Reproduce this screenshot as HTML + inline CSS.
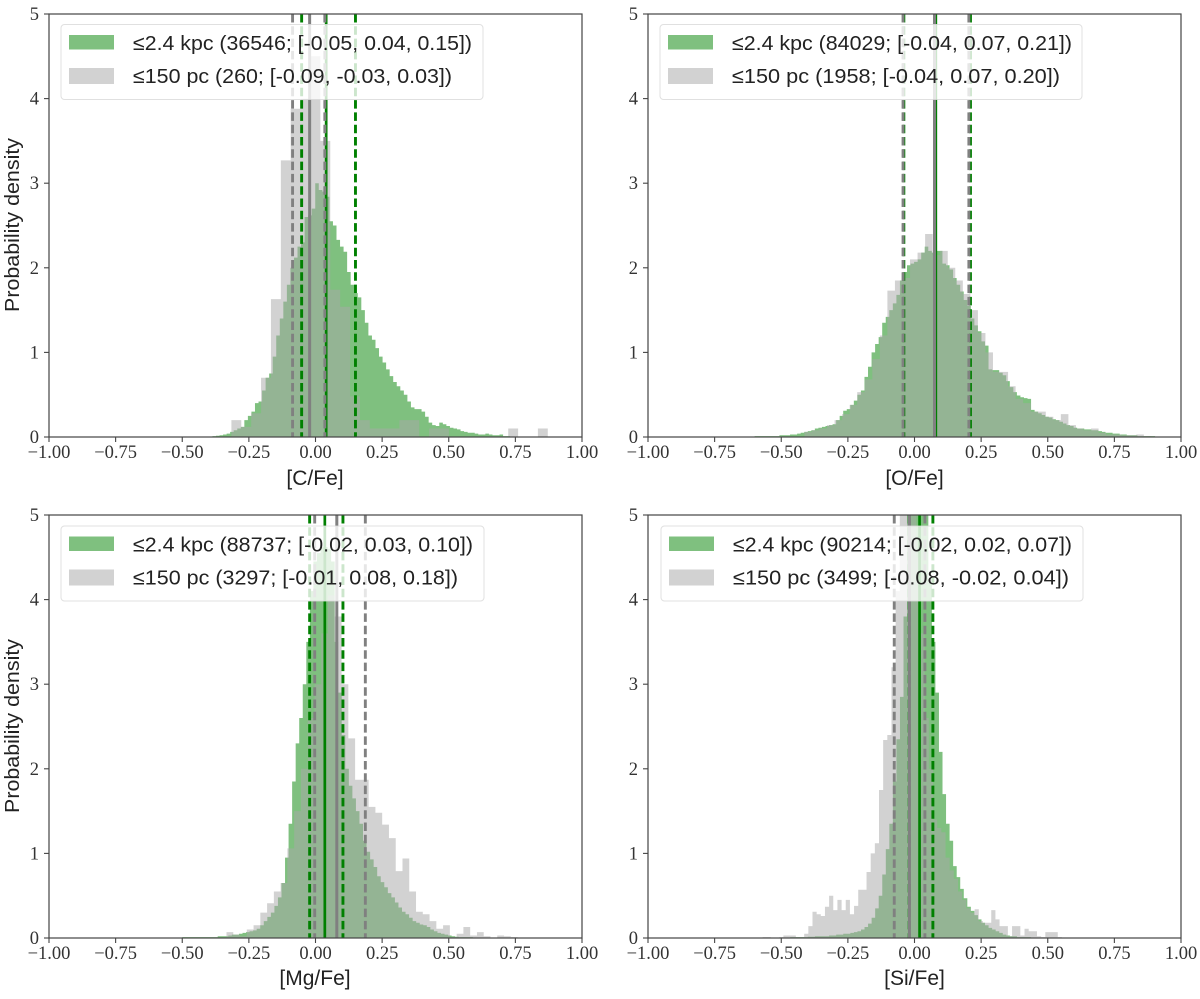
<!DOCTYPE html>
<html lang="en">
<head>
<meta charset="utf-8">
<title>Abundance distributions</title>
<style>
html,body{margin:0;padding:0;background:#fff;width:1200px;height:999px;overflow:hidden}
svg{display:block}
.tick{font-family:"Liberation Serif",serif;font-size:18.5px;fill:#333}
.axt{font-family:"Liberation Sans",sans-serif;font-size:20px;fill:#222}
.axx{font-family:"Liberation Sans",sans-serif;font-size:21px;fill:#222}
.leg{font-family:"Liberation Sans",sans-serif;font-size:20.5px;fill:#222}
</style>
</head>
<body>
<svg id="fig" xmlns="http://www.w3.org/2000/svg" width="1200" height="999" viewBox="0 0 1200 999">
  <defs>
    <clipPath id="clip-0"><rect x="49" y="14" width="533" height="423"/></clipPath>
    <clipPath id="clip-1"><rect x="648" y="14" width="533" height="423"/></clipPath>
    <clipPath id="clip-2"><rect x="49" y="515" width="533" height="423"/></clipPath>
    <clipPath id="clip-3"><rect x="648" y="515" width="533" height="423"/></clipPath>
  </defs>

  <g id="panel-0">
    <g id="marks-0" clip-path="url(#clip-0)"></g>
    <g id="frame-0"></g>
    <g>
      <rect x="61" y="24.5" width="422" height="75" rx="3.5" fill="#fff" fill-opacity="0.8" stroke="#d8d8d8" stroke-opacity="0.8"/>
      <rect x="69" y="35" width="45" height="14.5" fill="#7fc07f"/>
      <rect x="69" y="68" width="45" height="16" fill="#d2d2d2"/>
      <text class="leg" x="133" y="50" textLength="339" lengthAdjust="spacingAndGlyphs">≤2.4 kpc (36546; [-0.05, 0.04, 0.15])</text>
      <text class="leg" x="133" y="83" textLength="319" lengthAdjust="spacingAndGlyphs">≤150 pc (260; [-0.09, -0.03, 0.03])</text>
    </g>
    <text class="axx" x="315" y="485" text-anchor="middle">[C/Fe]</text>
    <text class="axt" transform="translate(19,225) rotate(-90)" text-anchor="middle" textLength="174" lengthAdjust="spacingAndGlyphs">Probability density</text>
  </g>

  <g id="panel-1">
    <g id="marks-1" clip-path="url(#clip-1)"></g>
    <g id="frame-1"></g>
    <g>
      <rect x="660" y="24.5" width="422" height="75" rx="3.5" fill="#fff" fill-opacity="0.8" stroke="#d8d8d8" stroke-opacity="0.8"/>
      <rect x="668" y="35" width="45" height="14.5" fill="#7fc07f"/>
      <rect x="668" y="68" width="45" height="16" fill="#d2d2d2"/>
      <text class="leg" x="732" y="50" textLength="340" lengthAdjust="spacingAndGlyphs">≤2.4 kpc (84029; [-0.04, 0.07, 0.21])</text>
      <text class="leg" x="732" y="83" textLength="328" lengthAdjust="spacingAndGlyphs">≤150 pc (1958; [-0.04, 0.07, 0.20])</text>
    </g>
    <text class="axx" x="914.5" y="485" text-anchor="middle">[O/Fe]</text>
  </g>

  <g id="panel-2">
    <g id="marks-2" clip-path="url(#clip-2)"></g>
    <g id="frame-2"></g>
    <g>
      <rect x="61" y="526" width="423" height="75" rx="3.5" fill="#fff" fill-opacity="0.8" stroke="#d8d8d8" stroke-opacity="0.8"/>
      <rect x="69" y="536.5" width="45" height="14.5" fill="#7fc07f"/>
      <rect x="69" y="569.5" width="45" height="16" fill="#d2d2d2"/>
      <text class="leg" x="133" y="551.5" textLength="340" lengthAdjust="spacingAndGlyphs">≤2.4 kpc (88737; [-0.02, 0.03, 0.10])</text>
      <text class="leg" x="133" y="584.5" textLength="325" lengthAdjust="spacingAndGlyphs">≤150 pc (3297; [-0.01, 0.08, 0.18])</text>
    </g>
    <text class="axx" x="315" y="985" text-anchor="middle">[Mg/Fe]</text>
    <text class="axt" transform="translate(19,726) rotate(-90)" text-anchor="middle" textLength="174" lengthAdjust="spacingAndGlyphs">Probability density</text>
  </g>

  <g id="panel-3">
    <g id="marks-3" clip-path="url(#clip-3)"></g>
    <g id="frame-3"></g>
    <g>
      <rect x="661" y="526" width="422" height="75" rx="3.5" fill="#fff" fill-opacity="0.8" stroke="#d8d8d8" stroke-opacity="0.8"/>
      <rect x="669" y="536.5" width="45" height="14.5" fill="#7fc07f"/>
      <rect x="669" y="569.5" width="45" height="16" fill="#d2d2d2"/>
      <text class="leg" x="733" y="551.5" textLength="339" lengthAdjust="spacingAndGlyphs">≤2.4 kpc (90214; [-0.02, 0.02, 0.07])</text>
      <text class="leg" x="733" y="584.5" textLength="336" lengthAdjust="spacingAndGlyphs">≤150 pc (3499; [-0.08, -0.02, 0.04])</text>
    </g>
    <text class="axx" x="914.5" y="985" text-anchor="middle">[Si/Fe]</text>
  </g>
</svg>

<script>
const xTickValues = [-1, -0.75, -0.5, -0.25, 0, 0.25, 0.5, 0.75, 1];
const xTickLabels = ["−1.00", "−0.75", "−0.50", "−0.25", "0.00", "0.25", "0.50", "0.75", "1.00"];
const yTickValues = [0, 1, 2, 3, 4, 5];
const yTickLabels = ["0", "1", "2", "3", "4", "5"];

const greenC = [.005,.01,.015,.02,.03,.04,.06,.08,.1,.12,.2,.25,.3,.4,.42,.55,.7,.75,.95,1.2,1.4,1.6,1.8,2.0,2.12,2.25,2.3,2.6,2.62,2.7,3.0,2.92,2.9,2.84,2.55,2.5,2.33,2.25,2.19,1.95,1.8,1.7,1.65,1.5,1.35,1.2,1.15,1.05,.95,.88,.8,.72,.65,.6,.55,.5,.42,.35,.33,.33,.3,.24,.17,.14,.13,.17,.15,.13,.11,.1,.09,.07,.06,.05,.05,.04,.03,.03,.04,.03,.02,.02,.03,.01,.01];
const grayC = [.2,.12,.28,.7,1.63,3.27,3.88,4.0,4.5,3.5,1.74,1.54,.48,.2,.1,.1,.1,.2,.2,0,.1,.1,0,0,0,0,0,0,.1,0,0,.1];

const greenO = [.01,.01,.01,.01,.01,.01,.01,.02,.02,.02,.03,.03,.04,.05,.06,.07,.08,.1,.11,.12,.13,.14,.15,.2,.25,.31,.33,.38,.43,.5,.55,.71,.83,1.0,1.1,1.18,1.35,1.42,1.5,1.58,1.68,1.85,1.95,2.03,2.05,2.07,2.1,2.18,2.25,2.2,2.18,2.2,2.2,2.05,2.03,1.98,1.88,1.8,1.72,1.62,1.55,1.4,1.32,1.25,1.13,1.08,.8,.79,.79,.76,.73,.66,.59,.53,.49,.47,.46,.45,.32,.3,.28,.26,.24,.23,.21,.2,.18,.16,.14,.13,.11,.1,.1,.09,.09,.08,.08,.07,.06,.05,.05,.04,.04,.03,.03,.02,.02,.02,.01,.01,.01,.01,.01];
const grayO = [.06,.08,.1,.14,.2,.27,.38,.53,.68,.92,1.2,1.73,1.85,1.88,2.1,2.18,2.4,2.15,2.2,2.0,1.85,1.69,1.5,1.23,1.0,.77,.77,.6,.45,.4,.3,.3,.24,.2,.27,.14,.1,.08,.1,.05,.03,.03,.02,.02,.03,.01];

const greenMg = [.01,.01,.01,.01,.01,.01,.01,.01,.01,.01,.02,.02,.02,.03,.04,.04,.05,.06,.07,.08,.09,.11,.15,.2,.25,.3,.38,.48,.65,.95,1.35,1.85,2.3,2.6,3.0,3.5,4.1,4.45,4.55,4.62,4.62,4.6,4.45,3.5,2.9,2.4,2.0,1.8,1.65,1.5,1.35,1.15,1.02,.93,.84,.73,.66,.6,.53,.48,.42,.36,.31,.28,.24,.2,.18,.16,.15,.13,.1,.08,.06,.05,.04,.03,.02,.015,.01,.01,.01,.01];
const grayMg = [.07,.04,.02,.1,.15,.3,.41,.55,.65,1.06,1.5,2.0,2.6,3.0,3.6,4.05,3.8,3.0,2.36,1.87,1.87,1.55,1.48,1.34,1.18,.79,.94,.55,.31,.28,.2,.11,.15,.01,.05,.13,.03,.07,.02,0,.03,.02,.01];

const greenSi = [.005,.005,.005,.005,.01,.01,.01,.01,.01,.015,.015,.02,.02,.02,.02,.03,.03,.04,.04,.05,.05,.06,.07,.08,.1,.13,.17,.24,.35,.5,.75,1.05,1.35,1.85,2.35,2.85,3.8,5.3,6.4,7.0,7.2,6.6,5.2,4.2,3.5,2.9,2.2,1.7,1.35,1.15,.85,.72,.58,.47,.37,.32,.27,.22,.18,.15,.12,.1,.08,.06,.04,.03,.02,.02,.01,.01,.01,.01,.005,.005];
const graySi = [.01,.01,0,0,.01,.03,.03,.03,.01,.01,.05,.14,.31,.28,.26,.37,.5,.33,.45,.33,.45,.28,.38,.57,.57,.78,1.0,1.12,1.75,2.34,2.4,3.2,4.1,5.2,5.6,5.5,5.0,4.5,3.6,2.6,2.0,1.4,1.3,1.25,.95,.8,.7,.55,.45,.35,.3,.34,.2,.18,.18,.33,.22,.14,.14,.02,.14,.14,.03,.11,.08,.08,.02,.01,.07,.07,.07,.01];

const greenBinStart = [-0.40, -0.60, -0.50, -0.52];
const greenBinWidth = [0.0133, 0.0133, 0.0133, 0.0133];
const grayBinStart = [-0.3156, -0.413, -0.334, -0.57];
const grayBinWidth = [0.0371, 0.0283, 0.0254, 0.0156];

const greenQuantilesC = [-0.052, 0.04, 0.15];
const grayQuantilesC = [-0.086, -0.022, 0.035];
const greenQuantilesO = [-0.04, 0.08, 0.21];
const grayQuantilesO = [-0.043, 0.075, 0.204];
const greenQuantilesMg = [-0.022, 0.035, 0.103];
const grayQuantilesMg = [-0.003, 0.08, 0.187];
const greenQuantilesSi = [-0.02, 0.019, 0.069];
const grayQuantilesSi = [-0.076, -0.019, 0.039];

const panelNames = ["c", "o", "mg", "si"];
const greenSeries = [greenC, greenO, greenMg, greenSi];
const graySeries = [grayC, grayO, grayMg, graySi];
const greenLines = [greenQuantilesC, greenQuantilesO, greenQuantilesMg, greenQuantilesSi];
const grayLines = [grayQuantilesC, grayQuantilesO, grayQuantilesMg, grayQuantilesSi];

const SVG_NS = "http://www.w3.org/2000/svg";
const boxes = [
  {l: 49, r: 582, t: 14, b: 437},
  {l: 648, r: 1181, t: 14, b: 437},
  {l: 49, r: 582, t: 515, b: 938},
  {l: 648, r: 1181, t: 515, b: 938}
];

function xScale(box, v) { return box.l + (v + 1) / 2 * (box.r - box.l); }
function yScale(box, v) { return box.b - v / 5 * (box.b - box.t); }

function histPath(box, values, start, width) {
  let d = "M" + xScale(box, start).toFixed(2) + " " + box.b;
  values.forEach(function (v, i) {
    const x0 = xScale(box, start + i * width).toFixed(2);
    const x1 = xScale(box, start + (i + 1) * width).toFixed(2);
    const y = yScale(box, v).toFixed(2);
    d += "L" + x0 + " " + y + "L" + x1 + " " + y;
  });
  d += "L" + xScale(box, start + values.length * width).toFixed(2) + " " + box.b + "Z";
  return d;
}

function addLine(parent, box, value, color, width, dashed) {
  const line = document.createElementNS(SVG_NS, "line");
  const x = xScale(box, value);
  line.setAttribute("x1", x);
  line.setAttribute("x2", x);
  line.setAttribute("y1", box.t);
  line.setAttribute("y2", box.b);
  line.setAttribute("stroke", color);
  line.setAttribute("stroke-width", width);
  if (dashed) line.setAttribute("stroke-dasharray", "8.5 3.8");
  
  
  parent.appendChild(line);
}

boxes.forEach(function (box, p) {
  const marks = document.getElementById("marks-" + p);
  const frame = document.getElementById("frame-" + p);

  const green = document.createElementNS(SVG_NS, "path");
  green.setAttribute("d", histPath(box, greenSeries[p], greenBinStart[p], greenBinWidth[p]));
  green.setAttribute("fill", "#7fc07f");
  
  
  marks.appendChild(green);

  const gray = document.createElementNS(SVG_NS, "path");
  gray.setAttribute("d", histPath(box, graySeries[p], grayBinStart[p], grayBinWidth[p]));
  gray.setAttribute("fill", "#a8a8a8");
  gray.setAttribute("fill-opacity", "0.516");
  
  
  marks.appendChild(gray);

  greenLines[p].forEach(function (v, i) {
    addLine(marks, box, v, "#008000", i === 1 ? 2.7 : 2.9, i !== 1);
  });
  grayLines[p].forEach(function (v, i) {
    addLine(marks, box, v, "#808080", i === 1 ? 3 : 2.9, i !== 1);
  });

  const spine = document.createElementNS(SVG_NS, "rect");
  spine.setAttribute("x", box.l);
  spine.setAttribute("y", box.t);
  spine.setAttribute("width", box.r - box.l);
  spine.setAttribute("height", box.b - box.t);
  spine.setAttribute("fill", "none");
  spine.setAttribute("stroke", "#444");
  spine.setAttribute("stroke-width", "1.2");
  
  
  frame.appendChild(spine);

  xTickValues.forEach(function (v, i) {
    const x = xScale(box, v);
    const tick = document.createElementNS(SVG_NS, "line");
    tick.setAttribute("x1", x);
    tick.setAttribute("x2", x);
    tick.setAttribute("y1", box.b);
    tick.setAttribute("y2", box.b + 5);
    tick.setAttribute("stroke", "#444");
    tick.setAttribute("stroke-width", "1.1");
    
    
    frame.appendChild(tick);
    const label = document.createElementNS(SVG_NS, "text");
    label.setAttribute("x", x);
    label.setAttribute("y", box.b + 21);
    label.setAttribute("text-anchor", "middle");
    label.setAttribute("class", "tick");
    
    
    label.textContent = xTickLabels[i];
    frame.appendChild(label);
  });

  yTickValues.forEach(function (v, i) {
    const y = yScale(box, v);
    const tick = document.createElementNS(SVG_NS, "line");
    tick.setAttribute("x1", box.l - 5);
    tick.setAttribute("x2", box.l);
    tick.setAttribute("y1", y);
    tick.setAttribute("y2", y);
    tick.setAttribute("stroke", "#444");
    tick.setAttribute("stroke-width", "1.1");
    
    
    frame.appendChild(tick);
    const label = document.createElementNS(SVG_NS, "text");
    label.setAttribute("x", box.l - 10);
    label.setAttribute("y", y + 6);
    label.setAttribute("text-anchor", "end");
    label.setAttribute("class", "tick");
    
    
    label.textContent = yTickLabels[i];
    frame.appendChild(label);
  });
});
</script>
</body>
</html>
